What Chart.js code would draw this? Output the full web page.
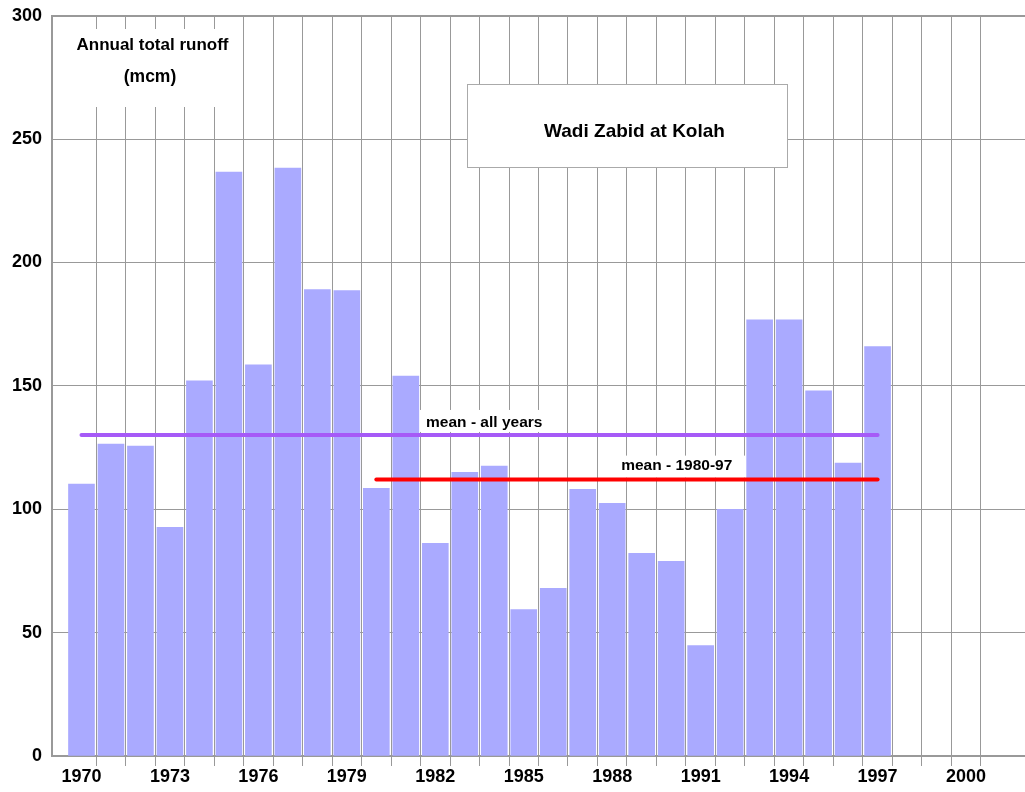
<!DOCTYPE html>
<html>
<head>
<meta charset="utf-8">
<script src="https://cdn.jsdelivr.net/npm/chart.js@4"></script>
<style>
  body { margin: 0; background: #fff; }
  #wrap { width: 1025px; height: 792px; }
</style>
</head>
<body>
<div id="wrap"><canvas id="runoffChart"></canvas></div>
<script>
// Annual total runoff, Wadi Zabid at Kolah (mcm)
const years = [1970, 1971, 1972, 1973, 1974, 1975, 1976, 1977, 1978, 1979,
    1980, 1981, 1982, 1983, 1984, 1985, 1986, 1987, 1988, 1989,
    1990, 1991, 1992, 1993, 1994, 1995, 1996, 1997];
const runoff = [110.2, 126.4, 125.6, 92.7, 152, 236.6, 158.5, 238.2, 189, 188.6,
    108.5, 154, 86.2, 115, 117.5, 59.3, 67.9, 108.1, 102.4, 82.1,
    78.9, 44.7, 100, 176.8, 176.8, 148, 118.7, 165.9];

// Mean lines
const meanAllYears = [1970, 1997];
const meanAllValue = 130.1;
const meanRecentYears = [1980, 1997];
const meanRecentValue = 112;

// Axis ticks
const yearLabels = [1970, 1973, 1976, 1979, 1982, 1985, 1988, 1991, 1994, 1997, 2000];
const gridYears = [1970.5, 1971.5, 1972.5, 1973.5, 1974.5, 1975.5, 1976.5, 1977.5, 1978.5, 1979.5,
    1980.5, 1981.5, 1982.5, 1983.5, 1984.5, 1985.5, 1986.5, 1987.5, 1988.5, 1989.5,
    1990.5, 1991.5, 1992.5, 1993.5, 1994.5, 1995.5, 1996.5, 1997.5, 1998.5, 1999.5, 2000.5];

const FONT = '"Liberation Sans", Arial, sans-serif';

// text boxes drawn on top of the grid
const notesPlugin = {
    id: 'notes',
    beforeDatasetsDraw(chart) {
        const ctx = chart.ctx;
        const area = chart.chartArea;
        const x = chart.scales.x;
        const y = chart.scales.y;
        ctx.save();

        // y axis caption
        ctx.fillStyle = '#fff';
        ctx.fillRect(area.left + 1, 29, 186, 78);
        ctx.fillStyle = '#000';
        ctx.textAlign = 'center';
        ctx.textBaseline = 'alphabetic';
        ctx.font = 'bold 17px ' + FONT;
        ctx.fillText('Annual total runoff', 152.5, 50);
        ctx.font = 'bold 17.5px ' + FONT;
        ctx.fillText('(mcm)', 150, 82);

        // title box
        ctx.fillStyle = '#fff';
        ctx.fillRect(467, 84, 321, 84);
        ctx.strokeStyle = '#aaa';
        ctx.lineWidth = 1;
        ctx.strokeRect(467.5, 84.5, 320, 83);
        ctx.fillStyle = '#000';
        ctx.font = 'bold 19px ' + FONT;
        ctx.fillText('Wadi Zabid at Kolah', 634.5, 136.5);

        // mean labels
        ctx.font = 'bold 15.5px ' + FONT;
        ctx.textAlign = 'left';
        let yAll = y.getPixelForValue(meanAllValue);
        let xAll = x.getPixelForValue(1981.45);
        ctx.fillStyle = '#fff';
        ctx.fillRect(xAll, yAll - 25, 128, 22);
        ctx.fillStyle = '#000';
        ctx.fillText('mean - all years', xAll + 7, yAll - 8);

        let yRec = y.getPixelForValue(meanRecentValue);
        let xRec = x.getPixelForValue(1988.0);
        ctx.fillStyle = '#fff';
        ctx.fillRect(xRec, yRec - 24, 136, 22);
        ctx.fillStyle = '#000';
        ctx.fillText('mean - 1980-97', xRec + 9, yRec - 10);

        ctx.restore();
    }
};

function drawRunoffChart() {
    const ctx = document.getElementById('runoffChart').getContext('2d');
    new Chart(ctx, {
        type: 'bar',
        data: {
            datasets: [{
                type: 'line',
                data: meanAllYears.map(v => ({ x: v, y: meanAllValue })),
                borderColor: '#a65af7',
                borderWidth: 4,
                borderCapStyle: 'round',
                pointRadius: 0,
                order: 0
            }, {
                type: 'line',
                data: meanRecentYears.map(v => ({ x: v, y: meanRecentValue })),
                borderColor: '#ff0000',
                borderWidth: 4,
                borderCapStyle: 'round',
                pointRadius: 0,
                order: 0
            }, {
                type: 'bar',
                data: years.map((v, i) => ({ x: v, y: runoff[i] })),
                backgroundColor: '#aaaaff',
                barThickness: 26,
                order: 1
            }]
        },
        options: {
            responsive: true,
            maintainAspectRatio: false,
            animation: false,
            layout: { padding: { top: 15.7, right: 0, left: 0, bottom: 0 } },
            plugins: {
                legend: { display: false },
                tooltip: { enabled: false }
            },
            scales: {
                x: {
                    type: 'linear',
                    min: 1969,
                    max: 2002,
                    offset: false,
                    afterBuildTicks: (scale) => {
                        const vals = yearLabels.concat(gridYears).sort((a, b) => a - b);
                        scale.ticks = vals.map(v => ({ value: v }));
                    },
                    afterFit: (scale) => { scale.height = 36; },
                    grid: {
                        offset: false,
                        color: (c) => (c.tick && Number.isInteger(c.tick.value)) ? 'rgba(0,0,0,0)' : '#999',
                        lineWidth: 1,
                        tickLength: 10
                    },
                    border: { color: '#999', width: 2 },
                    ticks: {
                        autoSkip: false,
                        maxRotation: 0,
                        padding: 0,
                        color: '#000',
                        font: { family: FONT, size: 18, weight: 'bold' },
                        callback: (v) => yearLabels.includes(v) ? String(v) : ''
                    }
                },
                y: {
                    min: 0,
                    max: 300,
                    afterFit: (scale) => {
                        scale.width = 52;
                        scale.paddingTop = 0;
                        scale.paddingBottom = 0;
                    },
                    grid: {
                        color: '#999',
                        lineWidth: (c) => (c.tick && c.tick.value === 300) ? 2 : 1,
                        drawTicks: false
                    },
                    border: { color: '#999', width: 2 },
                    ticks: {
                        stepSize: 50,
                        padding: 10,
                        color: '#000',
                        font: { family: FONT, size: 18, weight: 'bold' }
                    }
                }
            }
        },
        plugins: [notesPlugin]
    });
}

window.onload = function() {
    drawRunoffChart();
};
</script>
</body>
</html>
